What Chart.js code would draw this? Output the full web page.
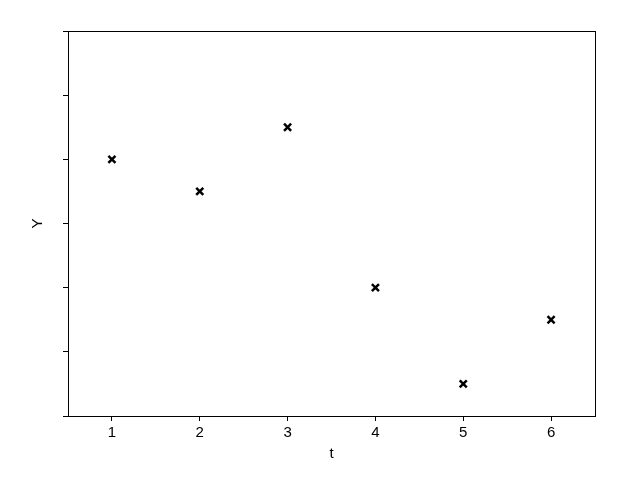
<!DOCTYPE html>
<html>
<head>
<meta charset="utf-8">
<script src="https://cdn.jsdelivr.net/npm/chart.js@4/dist/chart.umd.min.js"></script>
<style>
  html, body { margin: 0; padding: 0; background: #fff; }
  #wrap { width: 640px; height: 480px; }
</style>
</head>
<body>
<div id="wrap"><canvas id="chart" width="640" height="480"></canvas></div>
<script>
// --- data ---
const tValues = [1, 2, 3, 4, 5, 6];
const yValues = [4, 3.5, 4.5, 2, 0.5, 1.5];
const xTicks = [1, 2, 3, 4, 5, 6];
const yTicks = [0, 1, 2, 3, 4, 5, 6];

// draws the full box around the plot area
const boxPlugin = {
    id: 'box',
    afterDraw(chart) {
        const { ctx, chartArea: a } = chart;
        ctx.save();
        ctx.strokeStyle = '#000';
        ctx.lineWidth = 1;
        ctx.strokeRect(Math.round(a.left) + 0.5, Math.round(a.top) + 0.5,
            Math.round(a.right - a.left), Math.round(a.bottom - a.top));
        ctx.restore();
    }
};

Chart.defaults.font.family = "'Liberation Sans', Arial, sans-serif";
Chart.defaults.color = '#000';

new Chart(document.getElementById('chart'), {
    type: 'scatter',
    data: {
        datasets: [{
            data: tValues.map((t, i) => ({ x: t, y: yValues[i] })),
            pointStyle: 'crossRot',
            pointRadius: 5,
            pointHoverRadius: 5,
            borderColor: '#000',
            backgroundColor: '#000',
            borderWidth: 2.5
        }]
    },
    plugins: [boxPlugin],
    options: {
        responsive: false,
        animation: false,
        layout: { padding: { left: 0, top: 31, right: 45, bottom: 0 } },
        plugins: {
            legend: { display: false },
            tooltip: { enabled: false }
        },
        scales: {
            x: {
                type: 'linear',
                min: 0.5,
                max: 6.5,
                afterBuildTicks: axis => { axis.ticks = xTicks.map(v => ({ value: v })); },
                afterFit: scale => { scale.height = 64; },
                grid: { drawOnChartArea: false, drawTicks: true, tickLength: 5, color: '#000' },
                border: { display: true, color: '#000', width: 1 },
                ticks: { font: { size: 15 }, padding: 3, maxRotation: 0 },
                title: { display: true, text: 't', font: { size: 15 }, padding: { top: 0, bottom: 17 } }
            },
            y: {
                min: 0,
                max: 6,
                afterBuildTicks: axis => { axis.ticks = yTicks.map(v => ({ value: v })); },
                afterFit: scale => { scale.width = 68; },
                grid: { drawOnChartArea: false, drawTicks: true, tickLength: 5, color: '#000' },
                border: { display: true, color: '#000', width: 1 },
                ticks: { callback: () => '', padding: 0 },
                title: { display: true, text: 'Y', font: { size: 15 }, padding: { top: 29, bottom: 0 } }
            }
        }
    }
});
</script>
</body>
</html>
